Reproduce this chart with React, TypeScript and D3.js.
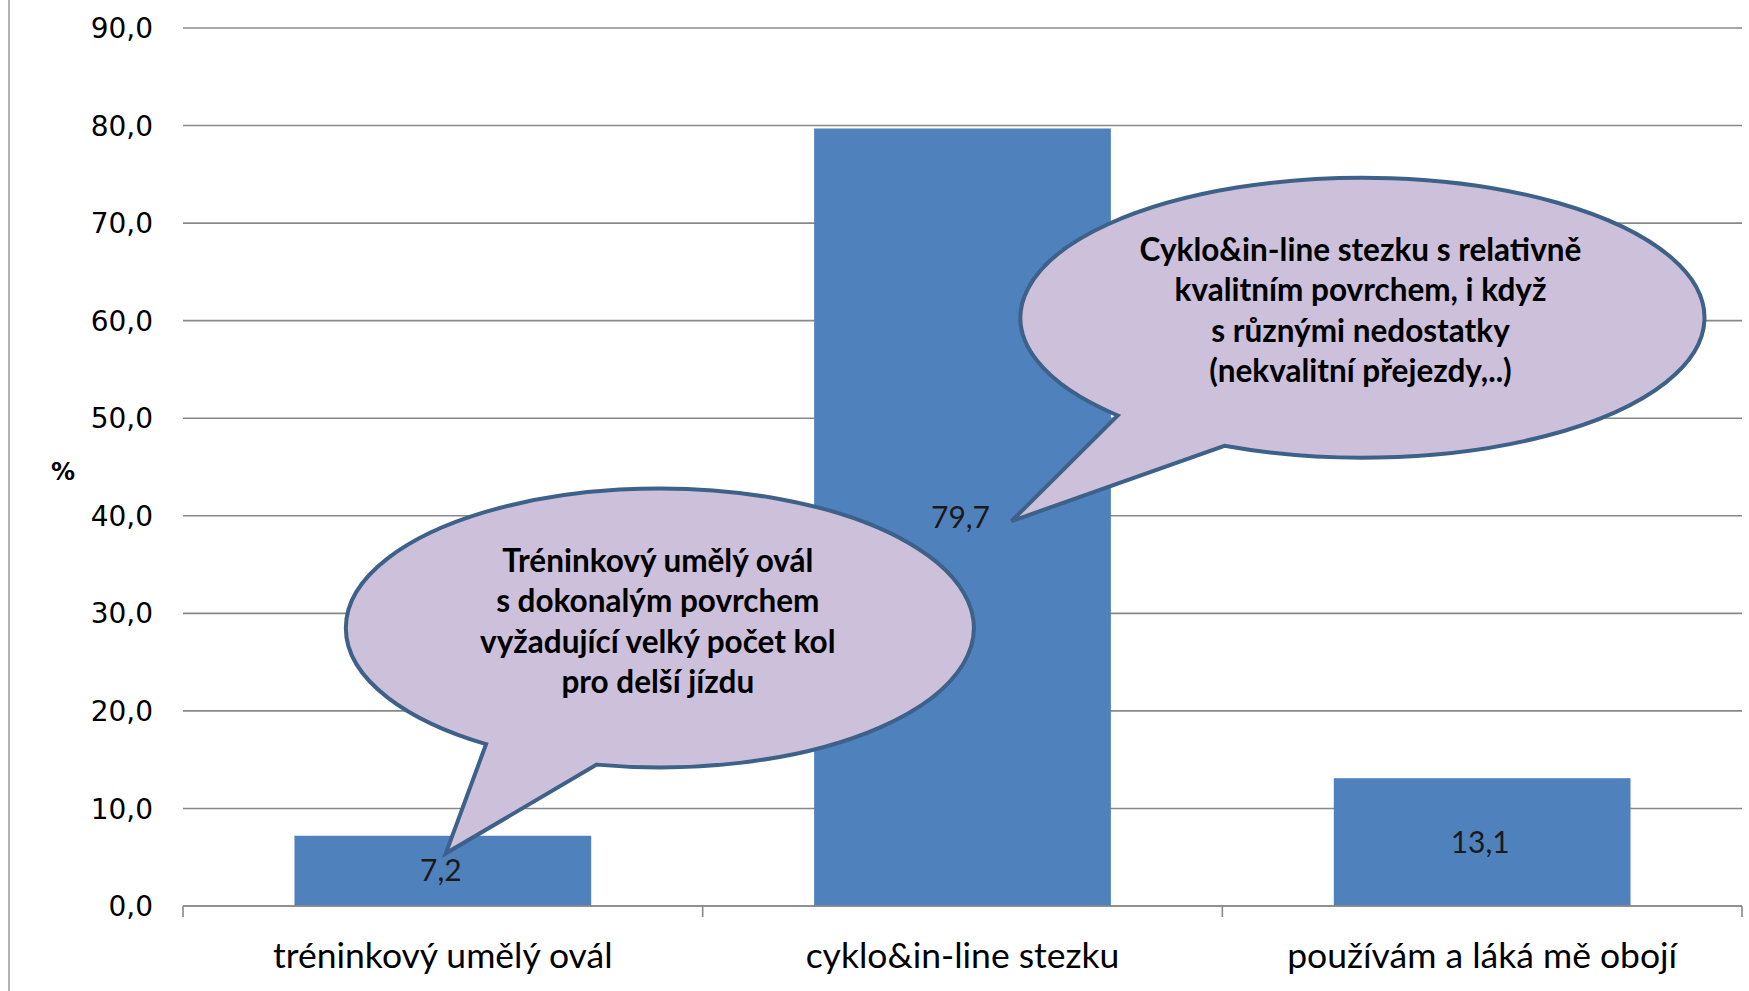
import React from "react";
import * as d3 from "d3";

const categories = ["tréninkový umělý ovál", "cyklo&in-line stezku", "používám a láká mě obojí"];
const values = [7.2, 79.7, 13.1];
const yTicks = [0, 10, 20, 30, 40, 50, 60, 70, 80, 90];
const yAxisLabel = "%";
const callout1Lines = ["Tréninkový umělý ovál", "s dokonalým povrchem", "vyžadující velký počet kol", "pro delší jízdu"];
const callout2Lines = ["Cyklo&in-line stezku s relativně", "kvalitním povrchem, i když", "s různými nedostatky", "(nekvalitní přejezdy,..)"];

const W = 1749;
const H = 991;
const plotLeft = 183;
const plotRight = 1742;
const yZero = 906;
const yTop = 28;

const fmt = (v: number) => v.toFixed(1).replace(".", ",");

export default function App() {
  const x = d3.scaleBand<string>().domain(categories).range([plotLeft, plotRight]).paddingInner(0).paddingOuter(0);
  const y = d3.scaleLinear().domain([0, 90]).range([yZero, yTop]);
  const bw = x.bandwidth() * 0.571;
  const barX = (c: string) => (x(c) as number) + (x.bandwidth() - bw) / 2;
  const cx = (i: number) => (x(categories[i]) as number) + x.bandwidth() / 2;

  const callouts = [
    {
      cx: cx(0) + 217, cy: y(28.5), rx: 314, ry: 139.5,
      a1: 123.6, a2: 101.6,
      tipX: cx(0) + 3, tipY: y(5.4),
      lines: callout1Lines, lineY0: y(28.5) - 67,
    },
    {
      cx: cx(1) + 400, cy: y(60.3), rx: 342, ry: 140,
      a1: 135.7, a2: 113.8,
      tipX: cx(1) + 49, tipY: y(39.45),
      lines: callout2Lines, lineY0: y(60.3) - 68,
    },
  ];

  const calloutPath = (c: any) => {
    const p = (deg: number) => {
      const t = (deg * Math.PI) / 180;
      return [c.cx + c.rx * Math.cos(t), c.cy + c.ry * Math.sin(t)];
    };
    const A = p(c.a1);
    const B = p(c.a2);
    return `M${A[0]},${A[1]} A${c.rx},${c.ry} 0 1 1 ${B[0]},${B[1]} L${c.tipX},${c.tipY} Z`;
  };

  const catFont = "Lato, 'Open Sans', sans-serif";

  return (
    <svg width={W} height={H} style={{ position: "absolute", left: 0, top: 0, background: "#fff" }}>
      <rect x={0} y={0} width={W} height={H} fill="#fff" />
      <line x1={9} x2={9} y1={0} y2={H} stroke="#9a9a9a" strokeWidth={1.5} />
      {yTicks.map((t) => (
        <line key={"g" + t} x1={plotLeft} x2={plotRight} y1={y(t)} y2={y(t)} stroke="#888888" strokeWidth={1.6} />
      ))}
      {yTicks.map((t) => (
        <text key={"t" + t} x={153} y={y(t)} dy="0.36em" textAnchor="end" fontFamily="'DejaVu Sans', Verdana, sans-serif" fontSize={28} fill="#000">
          {fmt(t)}
        </text>
      ))}
      <text x={63} y={471} dy="0.36em" textAnchor="middle" fontFamily="'DejaVu Sans', sans-serif" fontWeight="bold" fontSize={24} fill="#000">
        {yAxisLabel}
      </text>
      {categories.map((c, i) => (
        <rect key={c} x={barX(c)} y={y(values[i])} width={bw} height={y(0) - y(values[i])} fill="#4F81BD" />
      ))}
      <line x1={plotLeft} x2={plotRight} y1={yZero} y2={yZero} stroke="#888888" strokeWidth={1.6} />
      {[...categories.map((c) => x(c) as number), plotRight].map((tx, i) => (
        <line key={"xt" + i} x1={tx} x2={tx} y1={yZero} y2={yZero + 11} stroke="#888888" strokeWidth={1.6} />
      ))}
      {categories.map((c, i) => (
        <text key={"xl" + c} x={cx(i)} y={956} dy="0.35em" textAnchor="middle" fontFamily={catFont} fontSize={35.5} fill="#000">
          {c}
        </text>
      ))}
      {categories.map((c, i) => (
        <text key={"dl" + c} x={cx(i) - 2} y={y(values[i] / 2)} dy="0.35em" textAnchor="middle" fontFamily={catFont} fontSize={30} fill="#1a1a1a">
          {fmt(values[i])}
        </text>
      ))}
      {callouts.map((c, k) => (
        <g key={"co" + k}>
          <path d={calloutPath(c)} fill="#CCC0DA" stroke="#3E6189" strokeWidth={4} strokeLinejoin="miter" />
          {c.lines.map((ln: string, j: number) => (
            <text key={j} x={c.cx - 2} y={c.lineY0 + j * 40.5} dy="0.35em" textAnchor="middle" fontFamily={catFont} fontWeight="bold" fontSize={31.5} fill="#000">
              {ln}
            </text>
          ))}
        </g>
      ))}
    </svg>
  );
}
